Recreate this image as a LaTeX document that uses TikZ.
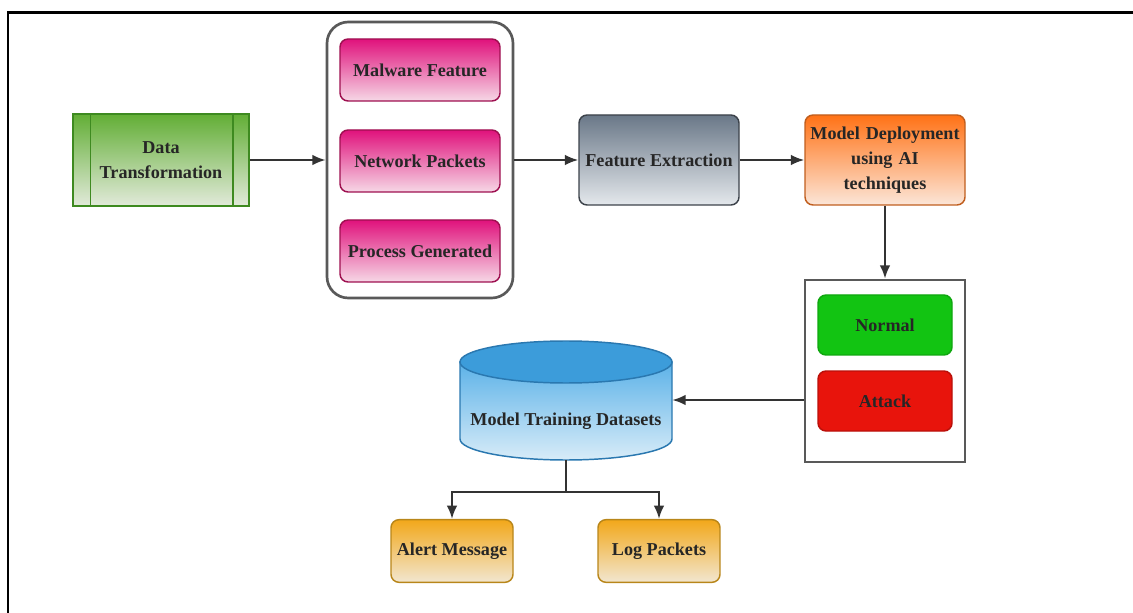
\documentclass[tikz,border=0pt]{standalone}
\usepackage{fontspec}
\setmainfont{Liberation Serif}[BoldFont={Liberation Serif Bold}]
\newfontfamily\diagfont{Liberation Serif}[BoldFont={Liberation Serif Bold}]
\usetikzlibrary{arrows.meta}
\usepackage{xcolor}
\definecolor{greentop}{HTML}{62AE35}
\definecolor{greenbot}{HTML}{E2EADA}
\definecolor{greenline}{HTML}{3E8A20}
\definecolor{pinktop}{HTML}{E0127C}
\definecolor{pinkbot}{HTML}{F6D8E6}
\definecolor{pinkline}{HTML}{9E1050}
\definecolor{graytop}{HTML}{6A7888}
\definecolor{graybot}{HTML}{E4E8EC}
\definecolor{grayline}{HTML}{3C424A}
\definecolor{orangetop}{HTML}{FF7216}
\definecolor{orangebot}{HTML}{FCE6D8}
\definecolor{orangeline}{HTML}{C05E1E}
\definecolor{normalfill}{HTML}{12C412}
\definecolor{attackfill}{HTML}{E8140C}
\definecolor{dbcap}{HTML}{3C9CDA}
\definecolor{dbtop}{HTML}{5CB2E8}
\definecolor{dbbot}{HTML}{D8ECF8}
\definecolor{dbline}{HTML}{2A78B0}
\definecolor{alerttop}{HTML}{F2A81A}
\definecolor{alertbot}{HTML}{F2E6D0}
\definecolor{alertline}{HTML}{B8861A}

\begin{document}
\begin{tikzpicture}[x=0.75pt, y=-0.75pt,
    font=\diagfont\fontsize{13.6}{19}\selectfont\bfseries,
    box/.style={rounded corners=6pt, line width=1.1pt, text=black!85, align=center, inner sep=1pt},
    dtbox/.style={box, rounded corners=0pt, draw=greenline, top color=greentop, bottom color=greenbot, minimum width=132pt, minimum height=69pt},
    pinkbox/.style={box, draw=pinkline, top color=pinktop, bottom color=pinkbot, minimum width=120pt, minimum height=46.5pt},
    febox/.style={box, draw=grayline, top color=graytop, bottom color=graybot, minimum width=120pt, minimum height=67.5pt},
    mdbox/.style={box, draw=orangeline, top color=orangetop, bottom color=orangebot, minimum width=120pt, minimum height=67.5pt, text width=118pt},
    groupbox/.style={draw=black!65, line width=2pt, minimum width=120pt},
    resbox/.style={box, minimum width=100.5pt, minimum height=45pt},
    outbox/.style={box, draw=alertline, top color=alerttop, bottom color=alertbot, minimum width=91.5pt, minimum height=47pt},
    arr/.style={-{Latex[length=10pt,width=8pt]}, line width=1.6pt, draw=black!80}]
  \useasboundingbox (0,0) rectangle (1133,613);
  \draw[line width=2.2pt] (8,613) -- (8,12.5) -- (1133,12.5);

  \node[dtbox] (dt) at (161,160) {Data\\Transformation};
  \draw[greenline, line width=1.1pt] ([xshift=13.5pt]dt.north west) -- ([xshift=13.5pt]dt.south west);
  \draw[greenline, line width=1.1pt] ([xshift=-12.5pt]dt.north east) -- ([xshift=-12.5pt]dt.south east);

  \node[groupbox, rounded corners=16pt, minimum width=139.5pt, minimum height=207pt] (grp) at (420,160) {};
  \node[pinkbox] (malware) at (420,70) {Malware Feature};
  \node[pinkbox] (network) at (420,161) {Network Packets};
  \node[pinkbox] (process) at (420,251) {Process Generated};

  \node[febox] (fe) at (659,160) {Feature Extraction};
  \node[mdbox] (md) at (885,160) {Model Deployment\\using AI\\techniques};

  \node[groupbox, minimum height=136.5pt] (rb) at (885,371) {};
  \node[resbox, draw=normalfill!85!black, fill=normalfill] (normal) at (885,325) {Normal};
  \node[resbox, draw=attackfill!80!black, fill=attackfill] (attack) at (885,401) {Attack};

  \shade[top color=dbtop, bottom color=dbbot, draw=dbline, line width=1.1pt] (460,362) -- (460,439)
    arc[start angle=180, end angle=0, x radius=106, y radius=21] -- (672,362) -- cycle;
  \filldraw[fill=dbcap, draw=dbline, line width=1.1pt] (566,362) ellipse [x radius=106, y radius=21];
  \node[minimum width=159pt, minimum height=90pt, inner sep=0pt] (db) at (566,400) {};
  \node[text=black!85] (dbtext) at (566,421) {Model Training Datasets};

  \node[outbox] (alert) at (452,551) {Alert Message};
  \node[outbox] (log) at (659,551) {Log Packets};

  \draw[arr] (dt) -- (grp);
  \draw[arr] (grp) -- (fe);
  \draw[arr] (fe) -- (md);
  \draw[arr] (md) -- (rb);
  \draw[arr] (rb.west |- db.east) -- (db.east);
  \coordinate (split) at (566,492);
  \draw[line width=1.6pt, black!80] (db.south) -- (split);
  \draw[arr] (split) -| (alert.north);
  \draw[arr] (split) -| (log.north);
\end{tikzpicture}
\end{document}
